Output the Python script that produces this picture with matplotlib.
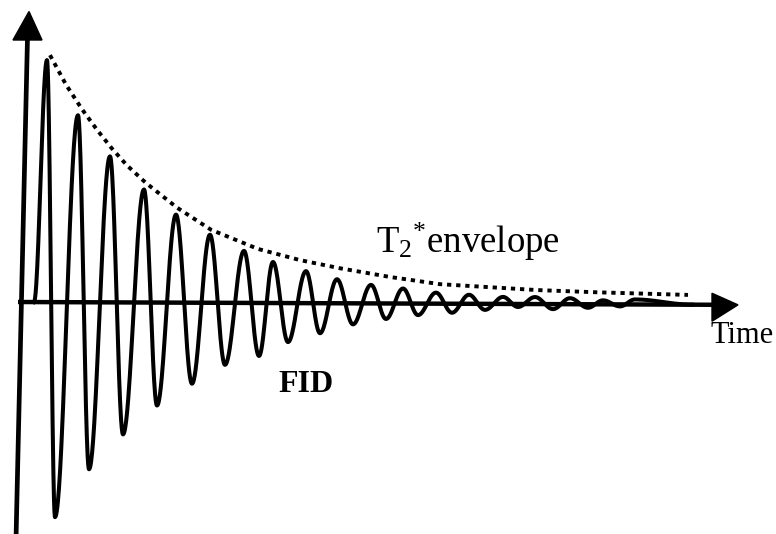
import numpy as np
import matplotlib
matplotlib.use("Agg")
import matplotlib.pyplot as plt
from matplotlib.patches import Polygon

# Free induction decay: successive extrema (time in arbitrary units, signal amplitude)
fid_t = [0.12, 0.25, 0.33, 0.56, 0.67, 0.88, 1.01, 1.22, 1.35, 1.54, 1.70,
         1.88, 2.03, 2.22, 2.37, 2.51, 2.66, 2.84, 2.98, 3.15, 3.31, 3.49,
         3.64, 3.81, 3.96, 4.14, 4.30, 4.47, 4.63, 4.81, 4.96, 5.13, 5.31,
         5.48, 5.66, 5.81, 5.98, 6.13, 6.70]
fid_a = [0.0, 0.968, -0.86, 0.748, -0.668, 0.584, -0.528, 0.452, -0.412,
         0.352, -0.324, 0.272, -0.248, 0.208, -0.212, 0.164, -0.156, 0.128,
         -0.12, 0.096, -0.084, 0.074, -0.062, 0.06, -0.046, 0.044, -0.036,
         0.036, -0.024, 0.028, -0.012, 0.028, -0.02, 0.024, -0.014, 0.016,
         -0.008, 0.02, 0.0]

# T2* decay envelope
env_t = [0.28, 0.44, 0.60, 0.75, 0.90, 1.05, 1.24, 1.55, 1.89, 2.36, 2.78,
         3.18, 3.68, 4.18, 5.15, 5.75, 6.66]
env_a = [0.988, 0.870, 0.772, 0.690, 0.615, 0.548, 0.478, 0.380, 0.292,
         0.216, 0.172, 0.140, 0.106, 0.078, 0.056, 0.048, 0.039]

label_env = "T$_{2}$$^{*}$envelope"
label_time = "Time"
label_fid = "FID"

plt.rcParams["mathtext.fontset"] = "custom"
plt.rcParams["mathtext.rm"] = "Liberation Serif"
plt.rcParams["mathtext.it"] = "Liberation Serif:italic"
plt.rcParams["mathtext.bf"] = "Liberation Serif:bold"

fig = plt.figure(figsize=(7.76, 5.34), dpi=100)
ax = fig.add_axes([0, 0, 1, 1])
ax.set_xlim(-0.22, 7.54)
ax.set_ylim(-0.928, 1.208)
ax.axis("off")

tilt = -0.0016  # slight slope of the time axis


def half_waves(ts, ys, n=40):
    """Join consecutive extrema with half-cosine segments."""
    xs, vs = [], []
    for i in range(len(ts) - 1):
        s = np.linspace(0, 1, n, endpoint=False)
        xs.append(ts[i] + (ts[i + 1] - ts[i]) * s)
        vs.append(ys[i] + (ys[i + 1] - ys[i]) * (1 - np.cos(np.pi * s)) / 2)
    xs.append([ts[-1]])
    vs.append([ys[-1]])
    return np.concatenate(xs), np.concatenate(vs)


ft, fa = half_waves(fid_t, fid_a)
ax.plot(ft, fa + tilt * ft, color="black", lw=2.9, solid_joinstyle="round",
        zorder=3)

et = np.array(env_t)
ax.plot(et, np.array(env_a) + tilt * et, color="black", lw=2.8,
        linestyle=(0, (1.1, 1.25)), dash_capstyle="butt", zorder=3)

# Time axis with arrow head
ax.plot([-0.04, 6.95], [0, tilt * 6.95], color="black", lw=3.2,
        solid_capstyle="butt", zorder=4)
ax.add_patch(Polygon([[6.90, 0.046 + tilt * 6.9], [7.16, tilt * 7.16],
                      [6.90, -0.066 + tilt * 6.9]],
                     closed=True, color="black", zorder=4))

# Signal axis with arrow head
ax.plot([-0.06, 0.055], [-0.95, 1.06], color="black", lw=3.4,
        solid_capstyle="butt", zorder=4)
ax.add_patch(Polygon([[-0.09, 1.048], [0.07, 1.162], [0.20, 1.048]],
                     closed=True, color="black", zorder=4))

ax.text(3.54, 0.196, label_env, fontsize=26.5, family="Liberation Serif",
        ha="left", va="baseline")
ax.text(7.52, -0.164, label_time, fontsize=22, family="Liberation Serif",
        ha="right", va="baseline")
ax.text(2.56, -0.36, label_fid, fontsize=23, family="Liberation Serif",
        fontweight="bold", ha="left", va="baseline")

fig.savefig("out.png", dpi=100)
